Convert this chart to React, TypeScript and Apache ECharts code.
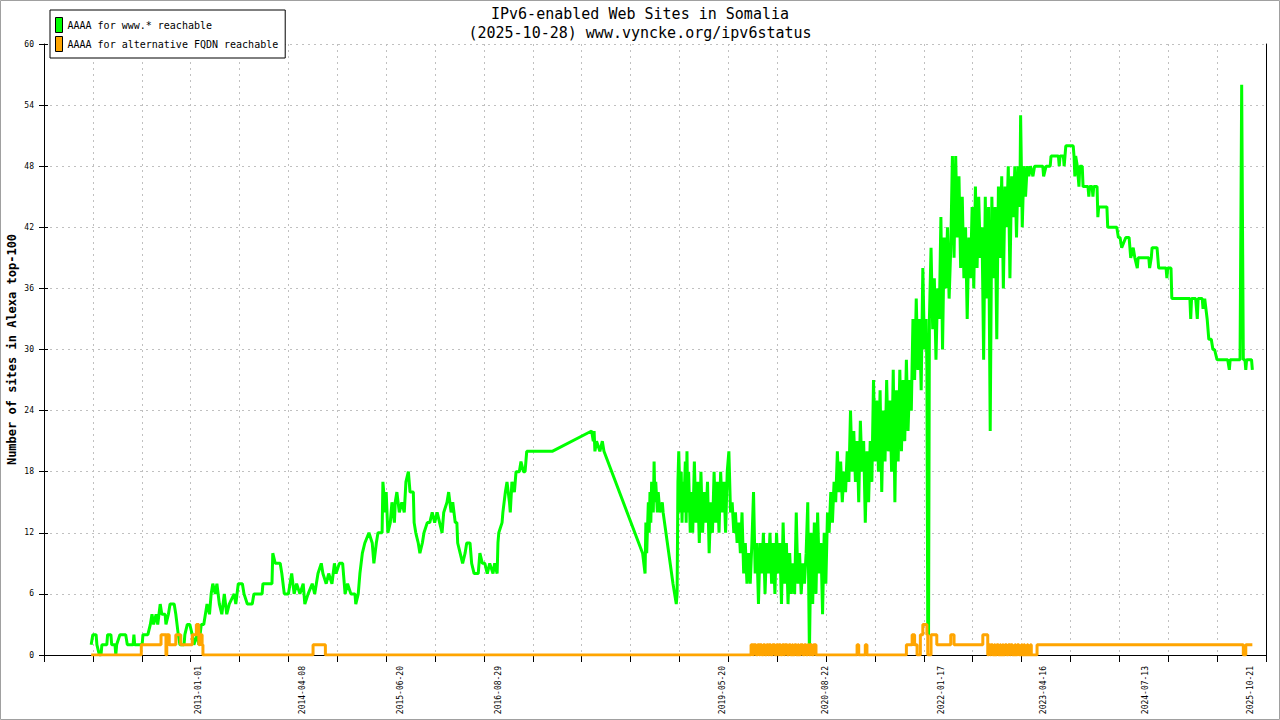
import { useEffect, useRef } from 'react';
import * as echarts from 'echarts';

const TITLE = 'IPv6-enabled Web Sites in Somalia\n(2025-10-28) www.vyncke.org/ipv6status';
const Y_NAME = 'Number of sites in Alexa top-100';
const GREEN_NAME = 'AAAA for www.* reachable';
const ORANGE_NAME = 'AAAA for alternative FQDN reachable';

// x axis runs in decimal years; 25 tick intervals between these two ends
const X_MIN = 2011.126;
const X_MAX = 2025.996;
const X_STEPS = 25;

const X_LABELS = [
  '2013-01-01', '2014-04-08', '2015-06-20', '2016-08-29', '2019-05-20',
  '2020-08-22', '2022-01-17', '2023-04-16', '2024-07-13', '2025-10-21',
];

// [decimal year, sites]
const GREEN: [number, number][] = [
  [2011.70,1],[2011.72,2],[2011.76,2],[2011.77,1],[2011.80,0],[2011.82,0],[2011.83,1],[2011.89,1],[2011.90,2],[2011.94,2],
  [2011.95,1],[2011.99,1],[2012.00,0],[2012.01,1],[2012.05,2],[2012.12,2],[2012.14,1],[2012.21,1],[2012.22,2],[2012.23,1],
  [2012.32,1],[2012.33,2],[2012.39,2],[2012.42,3],[2012.44,4],[2012.46,3],[2012.49,4],[2012.51,3],[2012.54,5],[2012.56,4],
  [2012.60,4],[2012.61,3],[2012.64,4],[2012.66,5],[2012.71,5],[2012.73,4],[2012.76,2],[2012.78,1],[2012.83,1],[2012.84,2],
  [2012.87,3],[2012.90,3],[2012.93,2],[2012.95,1],[2012.99,2],[2013.01,1],[2013.04,3],[2013.07,3],[2013.11,5],[2013.14,4],
  [2013.16,6],[2013.18,7],[2013.21,6],[2013.23,7],[2013.26,5],[2013.29,4],[2013.32,6],[2013.35,4],[2013.38,5],[2013.44,6],
  [2013.46,5],[2013.49,7],[2013.54,7],[2013.56,6],[2013.60,5],[2013.66,5],[2013.68,6],[2013.78,6],[2013.79,7],[2013.90,7],
  [2013.91,10],[2013.94,9],[2014.00,9],[2014.02,8],[2014.05,6],[2014.10,6],[2014.12,7],[2014.14,8],[2014.17,6],[2014.20,7],
  [2014.24,6],[2014.28,7],[2014.30,5],[2014.34,6],[2014.39,7],[2014.42,6],[2014.46,8],[2014.50,9],[2014.52,8],[2014.56,7],
  [2014.59,8],[2014.63,7],[2014.66,9],[2014.68,8],[2014.72,9],[2014.76,9],[2014.79,6],[2014.82,7],[2014.86,6],[2014.91,6],
  [2014.92,5],[2014.95,6],[2014.97,8],[2015.00,10],[2015.03,11],[2015.08,12],[2015.12,11],[2015.14,9],[2015.17,11],[2015.19,12],
  [2015.24,12],[2015.25,17],[2015.28,14],[2015.29,16],[2015.31,12],[2015.34,13],[2015.36,15],[2015.39,13],[2015.40,15],[2015.42,16],
  [2015.45,14],[2015.48,15],[2015.51,14],[2015.53,17],[2015.56,18],[2015.58,16],[2015.62,16],[2015.63,13],[2015.65,12],[2015.68,11],
  [2015.70,10],[2015.73,11],[2015.75,12],[2015.79,13],[2015.82,13],[2015.85,14],[2015.88,13],[2015.91,14],[2015.94,13],[2015.97,12],
  [2015.99,14],[2016.03,15],[2016.05,16],[2016.08,14],[2016.10,15],[2016.13,13],[2016.15,13],[2016.16,11],[2016.19,10],[2016.22,9],
  [2016.25,10],[2016.27,11],[2016.31,11],[2016.33,9],[2016.36,8],[2016.41,8],[2016.43,10],[2016.46,9],[2016.49,9],[2016.52,8],
  [2016.55,9],[2016.59,8],[2016.61,9],[2016.64,8],[2016.65,11],[2016.66,12],[2016.70,13],[2016.71,14],[2016.74,16],[2016.76,17],
  [2016.79,15],[2016.80,14],[2016.82,17],[2016.85,16],[2016.87,18],[2016.91,18],[2016.93,19],[2016.96,18],[2016.98,18],[2017.00,20],
  [2017.31,20],[2017.79,22],[2017.81,21],[2017.82,22],[2017.83,20],[2017.85,21],[2017.89,20],[2017.92,21],[2017.94,20],[2018.41,10],
  [2018.44,8],[2018.45,13],[2018.46,10],[2018.48,15],[2018.49,12],[2018.50,16],[2018.51,13],[2018.52,17],[2018.54,14],[2018.55,19],
  [2018.56,15],[2018.57,17],[2018.59,14],[2018.60,16],[2018.62,14],[2018.65,15],[2018.66,14],[2018.78,7],[2018.82,5],[2018.83,6],
  [2018.84,17],[2018.85,20],[2018.87,14],[2018.88,18],[2018.89,13],[2018.90,17],[2018.91,14],[2018.93,19],[2018.94,13],[2018.95,20],
  [2018.96,14],[2018.97,18],[2018.99,12],[2019.00,16],
  [2019.02,12],[2019.04,19],[2019.06,13],[2019.08,17],[2019.10,11],[2019.12,18],[2019.14,12],[2019.16,16],[2019.18,13],[2019.20,17],
  [2019.22,10],[2019.24,15],[2019.26,12],[2019.28,18],[2019.30,13],[2019.32,17],[2019.34,12],[2019.36,18],[2019.38,14],[2019.40,17],
  [2019.42,12],[2019.44,18],[2019.46,20],[2019.48,14],[2019.50,15],[2019.52,12],[2019.54,14],[2019.56,11],[2019.58,13],[2019.60,10],
  [2019.62,14],[2019.64,8],[2019.66,11],[2019.68,7],[2019.70,10],[2019.72,7],[2019.74,11],[2019.76,16],[2019.78,8],[2019.80,11],
  [2019.82,5],[2019.84,11],[2019.86,8],[2019.88,12],[2019.90,6],[2019.92,11],[2019.94,8],[2019.96,12],[2019.98,7],[2020.00,11],
  [2020.02,6],[2020.04,12],[2020.06,8],[2020.08,11],[2020.10,5],[2020.12,13],[2020.14,7],[2020.16,11],[2020.18,5],[2020.20,10],
  [2020.22,6],[2020.24,9],[2020.26,6],[2020.28,14],[2020.30,7],[2020.32,10],[2020.34,6],[2020.36,9],[2020.38,7],[2020.40,10],
  [2020.42,15],[2020.44,0],[2020.46,12],[2020.48,5],[2020.50,13],[2020.52,6],[2020.54,14],[2020.56,8],[2020.58,11],[2020.60,4],
  [2020.62,12],[2020.64,7],[2020.66,14],[2020.68,12],[2020.70,16],[2020.72,13],[2020.74,17],[2020.76,15],[2020.78,20],[2020.80,16],
  [2020.82,19],[2020.84,15],[2020.86,18],[2020.88,16],[2020.90,20],[2020.92,17],[2020.94,24],[2020.96,18],[2020.98,22],[2021.00,17],
  [2021.02,21],[2021.04,15],[2021.06,23],[2021.08,18],[2021.10,21],[2021.12,13],[2021.14,20],[2021.16,15],[2021.18,21],[2021.20,17],
  [2021.22,27],[2021.24,19],[2021.26,25],[2021.28,18],[2021.30,26],[2021.32,16],[2021.34,24],[2021.36,19],[2021.38,27],[2021.40,20],
  [2021.42,25],[2021.44,18],[2021.46,28],[2021.48,15],[2021.50,26],[2021.52,19],[2021.54,28],[2021.56,20],[2021.58,27],[2021.60,21],
  [2021.62,29],[2021.64,22],[2021.66,27],[2021.68,24],[2021.70,33],[2021.72,27],[2021.74,35],[2021.76,28],[2021.78,33],[2021.80,26],
  [2021.82,38],[2021.84,30],[2021.86,33],[2021.87,28],[2021.88,2],[2021.89,2],[2021.90,33],[2021.92,40],[2021.94,32],[2021.96,37],
  [2021.98,29],[2022.00,36],[2022.02,33],[2022.04,43],[2022.06,30],[2022.08,41],[2022.10,36],[2022.12,42],[2022.14,35],[2022.16,40],
  [2022.18,49],[2022.20,39],[2022.22,49],[2022.24,41],[2022.26,47],[2022.28,38],[2022.30,45],[2022.32,37],[2022.34,42],[2022.36,33],
  [2022.38,41],[2022.40,37],[2022.42,44],[2022.44,36],[2022.46,46],[2022.48,38],[2022.50,45],[2022.52,39],[2022.54,42],[2022.56,29],
  [2022.58,45],[2022.60,35],[2022.62,44],[2022.64,22],[2022.66,45],[2022.68,37],[2022.70,44],[2022.72,31],[2022.74,46],[2022.76,39],
  [2022.78,47],[2022.80,36],[2022.82,46],[2022.84,42],[2022.86,48],[2022.88,37],[2022.90,47],[2022.92,43],[2022.94,48],[2022.96,41],
  [2022.98,48],[2023.00,44],[2023.01,53],[2023.03,42],[2023.05,48],[2023.07,45],[2023.09,48],[2023.11,47],[2023.13,48],
  [2023.16,47],[2023.18,48],[2023.28,48],[2023.29,47],[2023.32,48],[2023.37,48],[2023.38,49],[2023.47,49],[2023.48,48],[2023.49,49],
  [2023.53,49],[2023.54,48],[2023.55,49],[2023.56,50],[2023.65,50],[2023.66,49],[2023.67,47],[2023.68,49],[2023.70,48],[2023.72,46],
  [2023.73,48],[2023.76,48],[2023.77,46],[2023.83,46],[2023.84,45],[2023.85,46],[2023.88,46],[2023.89,45],[2023.90,46],[2023.94,46],
  [2023.95,43],[2023.96,44],[2024.06,44],[2024.07,42],[2024.18,42],[2024.20,41],[2024.22,41],[2024.24,40],[2024.29,41],[2024.33,41],
  [2024.34,40],[2024.35,39],[2024.38,40],[2024.40,39],[2024.43,38],[2024.44,39],[2024.57,39],[2024.58,38],[2024.60,39],[2024.61,40],
  [2024.67,40],[2024.68,39],[2024.69,38],[2024.78,38],[2024.79,37],[2024.80,38],[2024.84,38],[2024.85,35],[2025.07,35],[2025.08,33],
  [2025.09,35],[2025.14,35],[2025.16,33],[2025.17,35],[2025.22,35],[2025.23,34],[2025.25,35],[2025.28,33],[2025.30,31],[2025.33,31],
  [2025.35,30],[2025.37,30],[2025.40,29],[2025.53,29],[2025.55,28],[2025.56,29],[2025.68,29],[2025.69,42],[2025.70,56],[2025.72,29],
  [2025.74,29],[2025.75,28],[2025.76,29],[2025.82,29],[2025.83,28],
];

// value holds from each point until the next one
const ORANGE: [number, number][] = [
  [2011.70,0],[2012.31,1],[2012.55,2],[2012.61,0],[2012.62,2],[2012.65,1],[2012.73,2],[2012.79,1],[2012.93,2],[2012.98,3],
  [2013.01,1],[2013.02,2],[2013.05,1],[2013.06,0],[2014.40,1],[2014.55,0],
  [2019.72,0],[2019.73,1],[2019.75,0],[2019.76,1],[2019.79,0],[2019.81,1],[2019.83,0],[2019.84,1],[2019.86,0],[2019.88,1],
  [2019.90,0],[2019.92,1],[2019.94,0],[2019.95,1],[2019.97,0],[2019.99,1],[2020.02,0],[2020.04,1],[2020.06,0],[2020.07,1],
  [2020.09,0],[2020.11,1],[2020.13,0],[2020.14,1],[2020.17,0],[2020.19,1],[2020.21,0],[2020.23,1],[2020.24,0],[2020.26,1],
  [2020.28,0],[2020.30,1],[2020.31,0],[2020.33,1],[2020.36,0],[2020.38,1],[2020.40,0],[2020.42,1],[2020.44,0],[2020.45,1],
  [2020.47,0],[2020.49,1],[2020.52,0],
  [2021.02,1],[2021.04,0],[2021.12,1],[2021.14,0],[2021.62,1],[2021.69,2],[2021.72,1],[2021.75,0],[2021.79,2],[2021.82,3],
  [2021.87,2],[2021.88,0],[2021.92,2],[2021.99,1],[2022.16,2],[2022.20,1],[2022.55,2],[2022.61,0],
  [2022.62,1],[2022.64,0],[2022.65,1],[2022.67,0],[2022.69,1],[2022.70,0],[2022.72,1],[2022.74,0],[2022.76,1],[2022.77,0],
  [2022.79,1],[2022.80,0],[2022.82,1],[2022.84,0],[2022.86,1],[2022.88,0],[2022.89,1],[2022.91,0],[2022.94,1],[2022.95,0],
  [2022.97,1],[2022.99,0],[2023.02,1],[2023.03,0],[2023.05,1],[2023.06,0],[2023.09,1],[2023.10,0],[2023.13,1],[2023.14,0],
  [2023.21,1],[2025.72,0],[2025.75,1],[2025.83,1],
];

const MONO = '"DejaVu Sans Mono", "Liberation Mono", monospace';

function dateToYear(s: string) {
  const [y, m, d] = s.split('-').map(Number);
  const start = Date.UTC(y, 0, 1);
  const end = Date.UTC(y + 1, 0, 1);
  return y + (Date.UTC(y, m - 1, d) - start) / (end - start);
}

const toAxis = (yr: number) => (yr - X_MIN) / ((X_MAX - X_MIN) / X_STEPS);

export default function App() {
  const chartRef = useRef<HTMLDivElement>(null);

  useEffect(() => {
    if (!chartRef.current) return;
    const chart = echarts.init(chartRef.current, null, { renderer: 'svg' });

    const labelPos = X_LABELS.map(s => toAxis(dateToYear(s)));
    const labelFor = (v: number) => {
      let best = 0;
      labelPos.forEach((p, i) => {
        if (Math.abs(p - v) < Math.abs(labelPos[best] - v)) best = i;
      });
      return X_LABELS[best];
    };

    const yCommon = { type: 'value', min: 0, max: 60, interval: 6 };

    const option = {
      animation: false,
      backgroundColor: '#fff',
      title: {
        text: TITLE,
        left: 'center',
        top: 4,
        padding: 0,
        textStyle: { fontFamily: MONO, fontSize: 15, fontWeight: 'normal', color: '#000', lineHeight: 19 },
      },
      legend: {
        orient: 'vertical',
        left: 50,
        top: 10,
        padding: [7, 7, 6, 5],
        itemGap: 3,
        itemWidth: 7,
        itemHeight: 15,
        icon: 'rect',
        borderColor: '#000',
        borderWidth: 1,
        backgroundColor: '#fff',
        itemStyle: { borderColor: '#000', borderWidth: 1 },
        textStyle: { fontFamily: MONO, fontSize: 10, color: '#000' },
        data: [GREEN_NAME, ORANGE_NAME],
      },
      grid: { left: 44, right: 14, top: 44, bottom: 65, outerBoundsMode: 'none' },
      xAxis: {
        type: 'value',
        min: 0,
        max: X_STEPS,
        interval: 1,
        axisLine: { show: true, lineStyle: { color: '#000', width: 1 } },
        axisTick: { show: true, length: 7, lineStyle: { color: '#000' } },
        splitLine: { show: true, lineStyle: { color: '#c0c0c0', type: [2, 4], width: 1 } },
        axisLabel: {
          customValues: labelPos,
          rotate: 90,
          margin: 11,
          fontFamily: MONO,
          fontSize: 8,
          color: '#000',
          formatter: (v: number) => labelFor(v),
        },
      },
      yAxis: [
        {
          ...yCommon,
          position: 'left',
          name: Y_NAME,
          nameLocation: 'middle',
          nameGap: 26,
          nameRotate: 90,
          nameMoveOverlap: false,
          nameTextStyle: { fontFamily: MONO, fontSize: 12, fontWeight: 'bold', color: '#000' },
          axisLine: { show: true, lineStyle: { color: '#000', width: 1 } },
          axisTick: { show: true, length: 5, lineStyle: { color: '#000' } },
          axisLabel: { fontFamily: MONO, fontSize: 8, color: '#000', margin: 10 },
          splitLine: { show: true, lineStyle: { color: '#c0c0c0', type: [2, 4], width: 1 } },
        },
        {
          ...yCommon,
          position: 'left',
          offset: 0,
          axisLine: { show: false },
          axisTick: { show: true, inside: true, length: 4, lineStyle: { color: '#000' } },
          axisLabel: { show: false },
          splitLine: { show: false },
        },
        {
          ...yCommon,
          position: 'right',
          axisLine: { show: true, lineStyle: { color: '#000', width: 1 } },
          axisTick: { show: false },
          axisLabel: { show: false },
          splitLine: { show: false },
        },
      ],
      graphic: [
        {
          type: 'rect',
          shape: { x: 0.5, y: 0.5, width: 1279, height: 719 },
          style: { fill: 'none', stroke: '#a0a0a0', lineWidth: 1 },
          silent: true,
        },
      ],
      series: [
        {
          name: GREEN_NAME,
          type: 'line',
          yAxisIndex: 0,
          showSymbol: false,
          color: '#00ff00',
          lineStyle: { color: '#00ff00', width: 3 },
          data: GREEN.map(([t, v]) => [toAxis(t), v]),
        },
        {
          name: ORANGE_NAME,
          type: 'line',
          yAxisIndex: 0,
          step: 'end',
          showSymbol: false,
          color: '#ffa500',
          lineStyle: { color: '#ffa500', width: 3 },
          data: ORANGE.map(([t, v]) => [toAxis(t), v]),
        },
      ],
    };

    chart.setOption(option as any);
    return () => {
      chart.dispose();
    };
  }, []);

  return (
    <div
      ref={chartRef}
      style={{ position: 'absolute', left: 0, top: 0, width: 1280, height: 720 }}
    ></div>
  );
}
